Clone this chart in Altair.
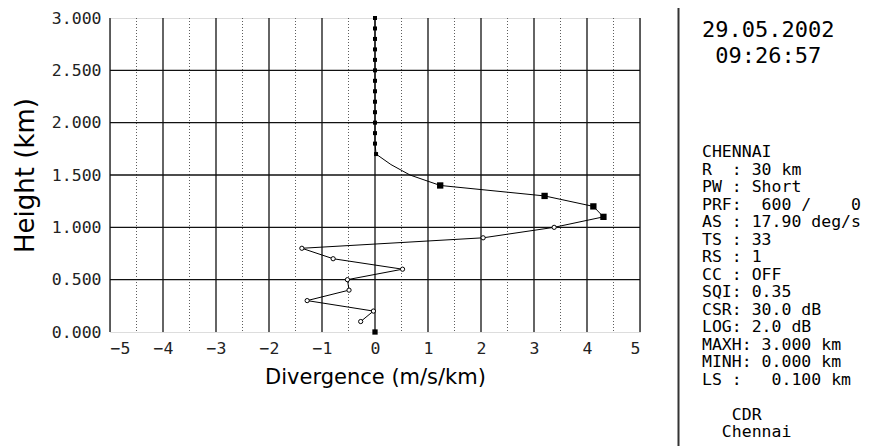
import altair as alt
import pandas as pd

# ---- data ----
heights = [0.1, 0.2, 0.3, 0.4, 0.5, 0.6, 0.7, 0.8, 0.9, 1.0,
           1.1, 1.2, 1.3, 1.4, 1.5, 1.6, 1.7, 1.8, 1.9, 2.0,
           2.1, 2.2, 2.3, 2.4, 2.5, 2.6, 2.7, 2.8, 2.9, 3.0]
divergence = [-0.27, -0.03, -1.28, -0.49, -0.52, 0.52, -0.79, -1.38, 2.04, 3.38,
              4.31, 4.12, 3.20, 1.23, 0.66, 0.30, 0.02, 0.0, 0.0, 0.0,
              0.0, 0.0, 0.0, 0.0, 0.0, 0.0, 0.0, 0.0, 0.0, 0.0]
marker = ["circle"] * 10 + ["square"] * 4 + ["none"] * 2 + ["dot"] * 14
surface_height = [0.0]
surface_div = [0.0]

x_ticks = [-5, -4, -3, -2, -1, 0, 1, 2, 3, 4, 5]
x_half = [-4.5, -3.5, -2.5, -1.5, -0.5, 0.5, 1.5, 2.5, 3.5, 4.5]
y_ticks = [0.0, 0.5, 1.0, 1.5, 2.0, 2.5, 3.0]
y_grid = [0.5, 1.0, 1.5, 2.0, 2.5]

date_lines = ["29.05.2002", " 09:26:57"]
info_lines = ["CHENNAI", "R  : 30 km", "PW : Short", "PRF:  600 /    0",
              "AS : 17.90 deg/s", "TS : 33", "RS : 1", "CC : OFF", "SQI: 0.35",
              "CSR: 30.0 dB", "LOG: 2.0 dB", "MAXH: 3.000 km", "MINH: 0.000 km",
              "LS :   0.100 km", "", "   CDR", "  Chennai"]

NBSP = "\u00a0"

df = pd.DataFrame({"h": heights, "div": divergence, "m": marker})
surf = pd.DataFrame({"h": surface_height, "div": surface_div})

xs = alt.Scale(domain=[-5, 5], nice=False, zero=False)
ys = alt.Scale(domain=[0, 3], nice=False, zero=False)

MONO = "DejaVu Sans Mono"

x_axis = alt.Axis(values=x_ticks, format="d", grid=False, ticks=False, domain=False,
                  labelFont=MONO, labelFontSize=16.5, labelColor="#222", labelPadding=8,
                  title="Divergence (m/s/km)", titleFont="DejaVu Sans", titleFontSize=21,
                  titleFontWeight="normal", titleColor="black", titleBaseline="alphabetic",
                  titleY=51)
y_axis = alt.Axis(values=y_ticks, format=".3f", grid=False, ticks=False, domain=False,
                  labelFont=MONO, labelFontSize=16.5, labelColor="#222", labelPadding=9,
                  title="Height (km)", titleFont="DejaVu Sans", titleFontSize=26,
                  titleFontWeight="normal", titleColor="black", titleAngle=270,
                  titleBaseline="alphabetic", titleX=-77, titleY=157)

major_x = alt.Chart(pd.DataFrame({"div": x_ticks})).mark_rule(
    color="#111", strokeWidth=1.3).encode(x=alt.X("div:Q", scale=xs, axis=x_axis))
minor_x = alt.Chart(pd.DataFrame({"div": x_half})).mark_rule(
    color="#333", strokeWidth=0.8, strokeDash=[1, 2]).encode(x=alt.X("div:Q", scale=xs))
major_y = alt.Chart(pd.DataFrame({"h": y_grid})).mark_rule(
    color="#111", strokeWidth=1.3).encode(y=alt.Y("h:Q", scale=ys, axis=y_axis))

line = alt.Chart(df).mark_line(color="black", strokeWidth=1).encode(
    x=alt.X("div:Q", scale=xs), y=alt.Y("h:Q", scale=ys), order="h:Q")

circles = alt.Chart(df).transform_filter(alt.datum.m == "circle").mark_point(
    shape="circle", filled=True, fill="white", stroke="black", strokeWidth=1, size=18, opacity=1
).encode(x=alt.X("div:Q", scale=xs), y=alt.Y("h:Q", scale=ys))
squares = alt.Chart(df).transform_filter(alt.datum.m == "square").mark_square(
    color="black", size=40, opacity=1).encode(x=alt.X("div:Q", scale=xs), y=alt.Y("h:Q", scale=ys))
dots = alt.Chart(df).transform_filter(alt.datum.m == "dot").mark_square(
    color="black", size=16, opacity=1).encode(x=alt.X("div:Q", scale=xs), y=alt.Y("h:Q", scale=ys))
surface = alt.Chart(surf).mark_square(color="black", size=28, opacity=1).encode(
    x=alt.X("div:Q", scale=xs), y=alt.Y("h:Q", scale=ys))

# side panel
divider = alt.Chart(pd.DataFrame({"a": [0]})).mark_rule(color="#333", strokeWidth=2).encode(
    x=alt.value(568.5), y=alt.value(-18), y2=alt.value(430))


def text_layer(t, size, y):
    lead = len(t) - len(t.lstrip(" "))
    body = t.strip(" ").replace(" ", NBSP)
    return alt.Chart(pd.DataFrame({"t": [body]})).mark_text(
        font=MONO, fontSize=size, align="left", baseline="alphabetic", color="black"
    ).encode(text="t:N", x=alt.value(592 + lead * 0.602 * size), y=alt.value(y))


texts = []
for i, t in enumerate(date_lines):
    texts.append(text_layer(t, 22, 18.7 + i * 26.6))
for i, t in enumerate(info_lines):
    if t:
        texts.append(text_layer(t, 16.5, 139.3 + i * 17.5))

chart = alt.layer(major_x, minor_x, major_y, line, circles, squares, dots, surface,
                  divider, *texts).properties(
    width=530, height=314,
    autosize=alt.AutoSizeParams(type="none"),
    padding={"left": 102, "top": 10, "right": 226, "bottom": 114},
).configure_view(stroke="black", strokeWidth=1.5).configure(background="white")

chart.save("out.html", embed_options={"renderer": "svg", "actions": False})
